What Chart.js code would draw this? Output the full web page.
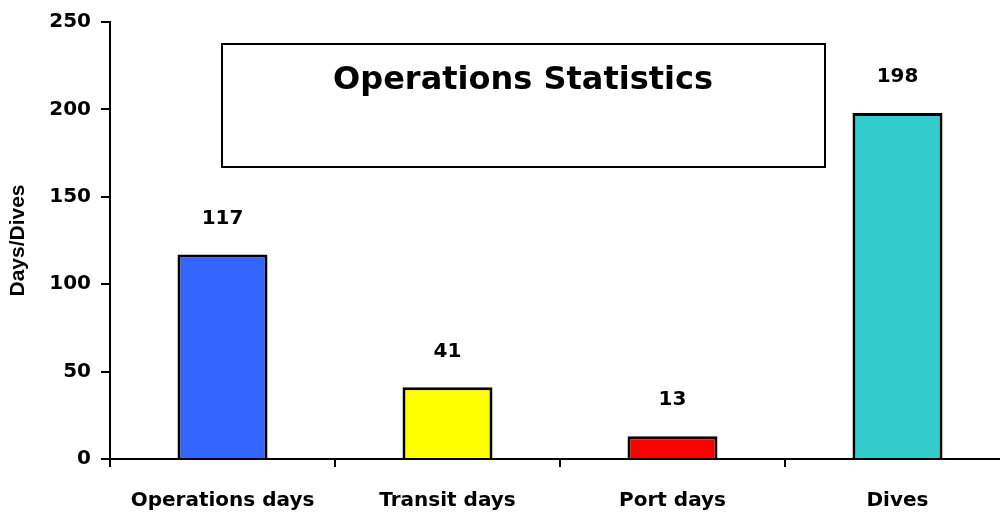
<!DOCTYPE html>
<html>
<head>
<meta charset="utf-8">
<script src="https://cdn.jsdelivr.net/npm/chart.js@4"></script>
<style>
  html, body { margin: 0; padding: 0; background: #fff; overflow: hidden; }
  #wrap { width: 1000px; height: 522px; overflow: hidden; }
</style>
</head>
<body>
<div id="wrap"><canvas id="ops-chart" width="1012" height="522"></canvas></div>
<script>
// data
const categories = ['Operations days', 'Transit days', 'Port days', 'Dives'];
const values = [117, 41, 13, 198];
const barColors = ['#3366FF', '#FFFF00', '#FF0000', '#33CCCC'];
const yTicks = [0, 50, 100, 150, 200, 250];
const chartTitle = 'Operations Statistics';
const yTitle = 'Days/Dives';

const valueLabels = {
  id: 'valueLabels',
  afterDatasetsDraw(chart) {
    const ctx = chart.ctx;
    const meta = chart.getDatasetMeta(0);
    ctx.save();
    ctx.font = 'bold 20px "DejaVu Sans"';
    ctx.fillStyle = '#000';
    ctx.textAlign = 'center';
    ctx.textBaseline = 'middle';
    meta.data.forEach((bar, i) => {
      ctx.fillText(values[i], bar.x, bar.y - 36);
    });
    ctx.restore();
  }
};

// boxed title sitting inside the plot
const titleBox = {
  id: 'titleBox',
  afterDraw(chart) {
    const ctx = chart.ctx;
    ctx.save();
    ctx.fillStyle = '#fff';
    ctx.fillRect(222, 44, 603, 123);
    ctx.strokeStyle = '#000';
    ctx.lineWidth = 2;
    ctx.strokeRect(222, 44, 603, 123);
    ctx.font = 'bold 32px "DejaVu Sans"';
    ctx.fillStyle = '#000';
    ctx.textAlign = 'center';
    ctx.textBaseline = 'middle';
    ctx.fillText(chartTitle, 523, 81);
    ctx.restore();
  }
};

new Chart(document.getElementById('ops-chart'), {
  type: 'bar',
  data: {
    labels: categories,
    datasets: [{
      data: values,
      backgroundColor: barColors,
      borderColor: '#000',
      borderWidth: 3,
      barPercentage: 0.4,
      categoryPercentage: 1.0
    }]
  },
  options: {
    responsive: false,
    animation: false,
    layout: { padding: { top: 18, right: 2, left: 0, bottom: 0 } },
    plugins: {
      legend: { display: false },
      tooltip: { enabled: false }
    },
    scales: {
      x: {
        grid: {
          offset: true,
          drawOnChartArea: false,
          color: '#000',
          lineWidth: 2,
          tickLength: 8
        },
        border: { color: '#000', width: 2 },
        ticks: {
          color: '#000',
          padding: 22,
          font: { family: '"DejaVu Sans"', weight: 'bold', size: 20 }
        },
        afterFit(scale) { scale.height = 63; }
      },
      y: {
        min: 0,
        max: 250,
        afterBuildTicks(scale) { scale.ticks = yTicks.map(v => ({ value: v })); },
        grid: {
          drawOnChartArea: false,
          color: '#000',
          lineWidth: 2,
          tickLength: 9
        },
        border: { color: '#000', width: 2 },
        ticks: {
          color: '#000',
          padding: 10,
          font: { family: '"DejaVu Sans"', weight: 'bold', size: 20 }
        },
        title: {
          display: true,
          text: yTitle,
          color: '#000',
          padding: { top: 6, bottom: 0 },
          font: { family: '"Liberation Sans"', weight: 'bold', size: 21 }
        },
        afterFit(scale) { scale.width = 110; }
      }
    }
  },
  plugins: [valueLabels, titleBox]
});
</script>
</body>
</html>
